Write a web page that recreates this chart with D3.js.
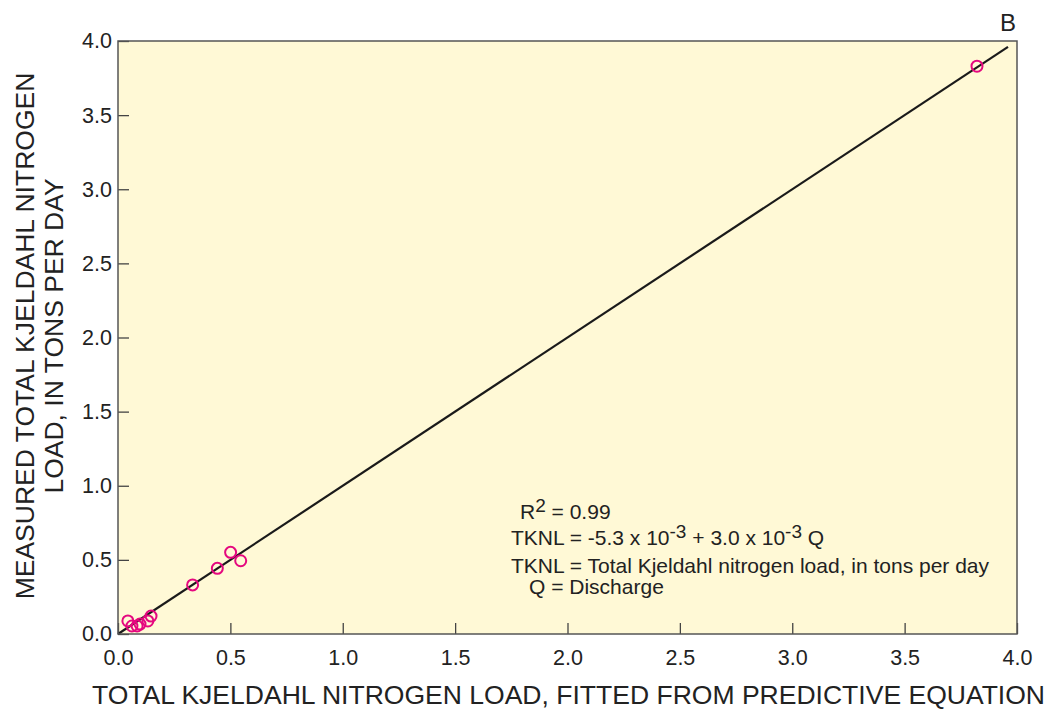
<!DOCTYPE html>
<html>
<head>
<meta charset="utf-8">
<script src="https://cdn.jsdelivr.net/npm/d3@7"></script>
<style>
  body { margin: 0; background: #fff; }
  svg { display: block; font-family: "Liberation Sans", Arial, sans-serif; }
</style>
</head>
<body>
<script>
// fitted vs measured TKN load, tons per day
const fitted   = [0.044, 0.062, 0.085, 0.098, 0.133, 0.147, 0.332, 0.442, 0.501, 0.546, 3.822];
const measured = [0.088, 0.054, 0.054, 0.067, 0.088, 0.121, 0.331, 0.443, 0.551, 0.494, 3.83];
const lineEnds = [0, 3.96];
const ticks = [0, 0.5, 1, 1.5, 2, 2.5, 3, 3.5, 4];

const W = 1050, H = 712;
const margin = { top: 41, right: 33, bottom: 78, left: 118 };
const width = W - margin.left - margin.right,
  height = H - margin.top - margin.bottom;

const svg = d3.select("body").append("svg")
  .attr("width", W)
  .attr("height", H);

const g = svg.append("g")
  .attr("transform", `translate(${margin.left},${margin.top})`);

const x = d3.scaleLinear().domain([0, 4]).range([0, width]);
const y = d3.scaleLinear().domain([0, 4]).range([height, 0]);

g.append("rect")
  .attr("width", width)
  .attr("height", height)
  .attr("fill", "#fff9d6");

// axes, ticks pointing inward
g.append("g")
  .attr("transform", `translate(0,${height})`)
  .call(d3.axisBottom(x).tickValues(ticks).tickSize(-11).tickPadding(16).tickFormat(d3.format(".1f")))
  .call(a => a.select(".domain").remove())
  .call(a => a.selectAll("line").attr("stroke", "#444").attr("stroke-width", 1.3))
  .call(a => a.selectAll("text").attr("font-size", 21.5).attr("fill", "#222").attr("font-family", "Liberation Sans, Arial, sans-serif"));

g.append("g")
  .call(d3.axisLeft(y).tickValues(ticks).tickSize(-11).tickPadding(6).tickFormat(d3.format(".1f")))
  .call(a => a.select(".domain").remove())
  .call(a => a.selectAll("line").attr("stroke", "#444").attr("stroke-width", 1.3))
  .call(a => a.selectAll("text").attr("font-size", 21.5).attr("fill", "#222").attr("font-family", "Liberation Sans, Arial, sans-serif"));

// 1:1 line
g.append("line")
  .attr("x1", x(lineEnds[0])).attr("y1", y(lineEnds[0]))
  .attr("x2", x(lineEnds[1])).attr("y2", y(lineEnds[1]))
  .attr("stroke", "#1a1a1a")
  .attr("stroke-width", 2.2);

// frame
g.append("rect")
  .attr("width", width)
  .attr("height", height)
  .attr("fill", "none")
  .attr("stroke", "#555")
  .attr("stroke-width", 1.5);

// points
g.append("g")
  .attr("fill", "none")
  .attr("stroke", "#e5087f")
  .attr("stroke-width", 2)
  .selectAll("circle")
  .data(fitted)
  .join("circle")
  .attr("cx", d => x(d))
  .attr("cy", (d, i) => y(measured[i]))
  .attr("r", 5.5);

// annotation
const note = svg.append("g").attr("font-size", 21).attr("fill", "#222");
const r2 = note.append("text").attr("x", 520).attr("y", 519);
r2.append("tspan").text("R");
r2.append("tspan").attr("dy", -7).attr("font-size", 19).text("2");
r2.append("tspan").attr("dy", 7).text(" = 0.99");

const eq = note.append("text").attr("x", 511).attr("y", 545);
eq.append("tspan").text("TKNL = -5.3 x 10");
eq.append("tspan").attr("dy", -7).attr("font-size", 19).text("-3");
eq.append("tspan").attr("dy", 7).text(" + 3.0 x 10");
eq.append("tspan").attr("dy", -7).attr("font-size", 19).text("-3");
eq.append("tspan").attr("dy", 7).text(" Q");

note.append("text").attr("x", 511).attr("y", 573)
  .text("TKNL = Total Kjeldahl nitrogen load, in tons per day");
note.append("text").attr("x", 529).attr("y", 594)
  .text("Q = Discharge");

// panel letter
svg.append("text")
  .attr("x", 1008).attr("y", 31)
  .attr("text-anchor", "middle")
  .attr("font-size", 24)
  .attr("fill", "#222")
  .text("B");

// axis titles
svg.append("text")
  .attr("x", 92).attr("y", 704)
  .attr("font-size", 26)
  .attr("fill", "#222")
  .attr("textLength", 953)
  .attr("lengthAdjust", "spacingAndGlyphs")
  .text("TOTAL KJELDAHL NITROGEN LOAD, FITTED FROM PREDICTIVE EQUATION");

svg.append("text")
  .attr("transform", "translate(34,336) rotate(-90)")
  .attr("text-anchor", "middle")
  .attr("font-size", 26.5)
  .attr("fill", "#222")
  .text("MEASURED TOTAL KJELDAHL NITROGEN");

svg.append("text")
  .attr("transform", "translate(63,336) rotate(-90)")
  .attr("text-anchor", "middle")
  .attr("font-size", 26.5)
  .attr("fill", "#222")
  .text("LOAD, IN TONS PER DAY");
</script>
</body>
</html>
